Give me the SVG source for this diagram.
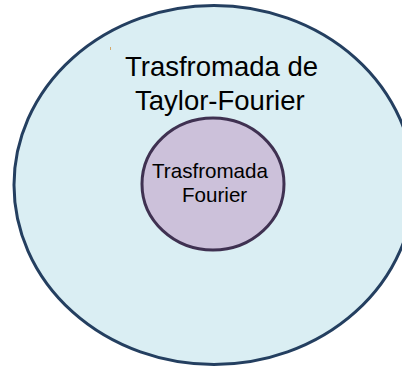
<svg xmlns="http://www.w3.org/2000/svg" width="402" height="370" viewBox="0 0 402 370">
<style>
text{font-family:"Liberation Sans",Arial,sans-serif;fill:#000}
.big{font-size:27.5px}
.small{font-size:20.6px}
</style>
<rect width="402" height="370" fill="#fff"/>
<g id="outer">
<ellipse cx="214" cy="185" rx="200" ry="179.5" fill="#daeef3" stroke="#243f60" stroke-width="3"/>
<rect x="110" y="47" width="1" height="3" fill="#d4a86a"/>
<text class="big" x="125" y="75.5">Trasfromada de</text>
<text class="big" x="135" y="109.5">Taylor-Fourier</text>
</g>
<g id="inner">
<ellipse cx="213" cy="184" rx="71" ry="66" fill="#ccc1da" stroke="#3f3151" stroke-width="3"/>
<text class="small" x="152" y="178.3">Trasfromada</text>
<text class="small" x="182" y="201.7">Fourier</text>
</g>
<g id="connectors"/>
</svg>
